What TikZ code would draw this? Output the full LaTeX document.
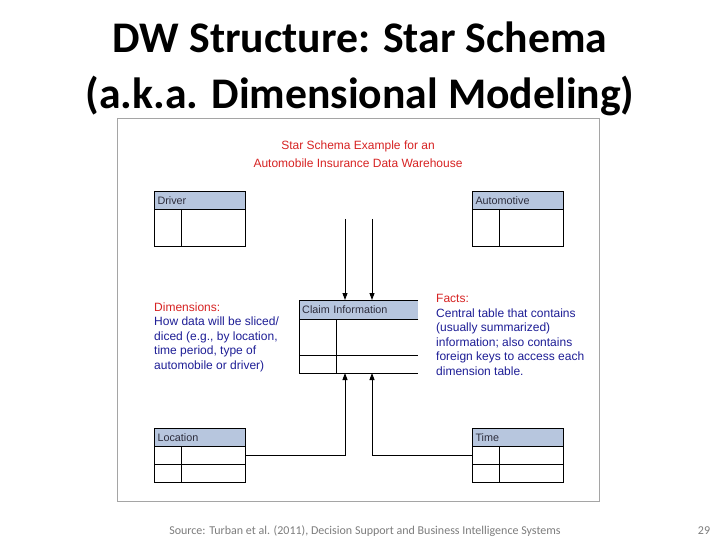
\documentclass[tikz,border=0pt]{standalone}
\usepackage{fontspec}
\setmainfont{Liberation Sans}
\newfontfamily\cali{Carlito}
\usetikzlibrary{arrows.meta}
\definecolor{hdrblue}{RGB}{183,198,222}
\definecolor{redtxt}{RGB}{215,35,35}
\definecolor{bluetxt}{RGB}{30,30,150}
\definecolor{framegray}{RGB}{165,165,165}
\definecolor{footgray}{RGB}{125,125,125}
\definecolor{hdrtxt}{RGB}{45,45,60}
\begin{document}
\begin{tikzpicture}[x=1pt,y=-1pt,
  tbl/.style={draw=black, line width=1pt},
  hdr/.style={tbl, fill=hdrblue, anchor=north west, inner xsep=3pt, inner ysep=0pt,
    minimum height=18pt, text width=#1-6pt, align=left, text=hdrtxt,
    font=\fontsize{10.8}{12}\selectfont},
  cell/.style={tbl, anchor=north west, inner sep=0pt, minimum width=#1},
  arr/.style={draw=black, line width=0.9pt, -{Triangle[length=7pt,width=5pt]}},
  txt/.style={anchor=north west, inner sep=0pt, align=left, font=\fontsize{12}{14.5}\selectfont}
]
\useasboundingbox (0,0) rectangle (720,540);
\fill[white] (0,0) rectangle (720,540);

% Slide title
\node[font=\cali\bfseries\fontsize{43.7}{56}\selectfont, align=center, anchor=base] (title) at (360,109)
  {DW Structure: Star Schema\\(a.k.a. Dimensional Modeling)};

% picture frame
\node[draw=framegray, line width=0.8pt, anchor=north west, inner sep=0pt,
  minimum width=482pt, minimum height=383pt] (frame) at (117,118) {};

% caption
\node[text=redtxt, align=center, anchor=base, font=\fontsize{12}{18}\selectfont] (cap) at (358,168)
  {Star Schema Example for an\\Automobile Insurance Data Warehouse};

% Driver
\node[hdr=91pt] (drvh) at (154,191) {Driver};
\node[cell=91pt, minimum height=37pt] (drvb) at (154,209) {};
\draw[tbl] ([xshift=27pt]drvb.north west) -- ([xshift=27pt]drvb.south west);

% Automotive
\node[hdr=91pt] (auth) at (472,191) {Automotive};
\node[cell=91pt, minimum height=37pt] (autb) at (472,209) {};
\draw[tbl] ([xshift=27pt]autb.north west) -- ([xshift=27pt]autb.south west);

% Location
\node[hdr=91pt] (loch) at (154,428) {Location};
\node[cell=91pt, minimum height=18pt] (locr1) at (154,446) {};
\node[cell=91pt, minimum height=18pt] (locr2) at (154,464) {};
\draw[tbl] ([xshift=27pt]locr1.north west) -- ([xshift=27pt]locr2.south west);

% Time
\node[hdr=91pt] (timh) at (472,428) {Time};
\node[cell=91pt, minimum height=18pt] (timr1) at (472,446) {};
\node[cell=91pt, minimum height=18pt] (timr2) at (472,464) {};
\draw[tbl] ([xshift=27pt]timr1.north west) -- ([xshift=27pt]timr2.south west);

% Claim Information (open on the right)
\node[anchor=north west, fill=hdrblue, inner xsep=3pt, inner ysep=0pt, minimum height=19pt,
  text width=113pt, align=left, text=hdrtxt, font=\fontsize{10.8}{12}\selectfont] (clmh) at (299,300) {Claim Information};
\draw[tbl] (clmh.south east) -- (clmh.south west) -- (clmh.north west) -- (clmh.north east);
\coordinate (clmbl) at (299,373);
\coordinate (clmml) at (299,355);
\draw[tbl] (clmh.south west) -- (clmbl) -- (clmbl -| clmh.east);
\draw[tbl] (clmml) -- (clmml -| clmh.east);
\draw[tbl] ([xshift=37pt]clmh.south west) -- ([xshift=37pt]clmbl);

% arrows
\coordinate (ta) at (345,219);
\coordinate (tb) at (372,219);
\coordinate (ba) at (345,373);
\coordinate (bb) at (372,373);
\draw[arr] (ta) -- (ta |- clmh.north);
\draw[arr] (tb) -- (tb |- clmh.north);
\draw[arr] (locr1.east) -| (ba);
\draw[arr] (timr1.west) -| (bb);

% notes
\node[txt, text=bluetxt] (dims) at (154,302.5)
  {\textcolor{redtxt}{Dimensions:}\\How data will be sliced/\\diced (e.g., by location,\\time period, type of\\automobile or driver)};
\node[txt, text=bluetxt] (facts) at (436,294.5)
  {\textcolor{redtxt}{Facts:}\\Central table that contains\\(usually summarized)\\information; also contains\\foreign keys to access each\\dimension table.};

% footer
\node[anchor=base, text=footgray, font=\cali\fontsize{12}{14}\selectfont] (src) at (365,534)
  {Source: Turban et al. (2011), Decision Support and Business Intelligence Systems};
\node[anchor=base, text=footgray, font=\cali\fontsize{12}{14}\selectfont] (pg) at (704,534) {29};
\end{tikzpicture}
\end{document}
